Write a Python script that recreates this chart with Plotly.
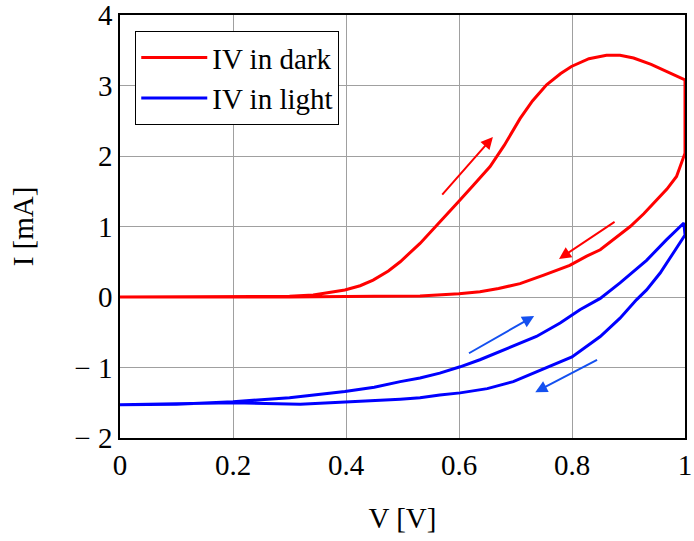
import plotly.graph_objects as go

# Dark I-V sweep: forward 0 -> 1 V, then reverse 1 -> 0 V
dark_v = [0.0, 0.1, 0.2, 0.3, 0.342, 0.37, 0.398, 0.425, 0.448, 0.475, 0.496, 0.531,
          0.565, 0.599, 0.625, 0.655, 0.68, 0.708, 0.73, 0.755, 0.78, 0.799, 0.83,
          0.861, 0.885, 0.909, 0.94, 0.967, 0.99, 1.0,
          1.0, 0.985, 0.968, 0.95, 0.927, 0.903, 0.873, 0.85, 0.826, 0.796, 0.75,
          0.708, 0.67, 0.637, 0.6, 0.566, 0.531, 0.45, 0.3, 0.0]
dark_i = [0.0, 0.0, 0.0, 0.01, 0.03, 0.06, 0.1, 0.16, 0.24, 0.37, 0.5, 0.76,
          1.05, 1.35, 1.58, 1.85, 2.15, 2.53, 2.78, 3.01, 3.17, 3.27, 3.38,
          3.43, 3.43, 3.39, 3.3, 3.2, 3.12, 3.08,
          2.04, 1.71, 1.53, 1.38, 1.18, 1.0, 0.81, 0.67, 0.58, 0.45, 0.31,
          0.19, 0.12, 0.075, 0.045, 0.03, 0.014, 0.01, 0.0, 0.0]

# Illuminated I-V sweep: forward 0 -> 1 V, then reverse 1 -> 0 V
light_v = [0.0, 0.1, 0.2, 0.3, 0.398, 0.45, 0.496, 0.531, 0.566, 0.602, 0.637, 0.678,
           0.737, 0.779, 0.814, 0.85, 0.885, 0.932, 0.967, 0.998,
           1.0, 0.979, 0.956, 0.932, 0.914, 0.885, 0.85, 0.8, 0.743, 0.696, 0.65,
           0.602, 0.566, 0.531, 0.496, 0.45, 0.398, 0.319, 0.2, 0.1, 0.0]
light_i = [-1.53, -1.52, -1.485, -1.43, -1.34, -1.28, -1.2, -1.15, -1.08, -0.99, -0.89, -0.75,
           -0.56, -0.37, -0.18, -0.02, 0.2, 0.52, 0.81, 1.05,
           0.88, 0.62, 0.34, 0.1, -0.04, -0.3, -0.56, -0.85, -1.04, -1.2, -1.3,
           -1.36, -1.39, -1.43, -1.45, -1.47, -1.49, -1.52, -1.5, -1.52, -1.53]

# Sweep-direction arrows: (tail V, tail I, head V, head I, colour)
arrows = [
    (0.568, 1.43, 0.660, 2.27, "#ff0000"),
    (0.878, 1.08, 0.777, 0.54, "#ff0000"),
    (0.615, -0.81, 0.733, -0.27, "#1450f0"),
    (0.847, -0.88, 0.735, -1.35, "#1450f0"),
]

x_ticks = [0, 0.2, 0.4, 0.6, 0.8, 1]
x_labels = ["0", "0.2", "0.4", "0.6", "0.8", "1"]
y_ticks = [-2, -1, 0, 1, 2, 3, 4]
y_labels = ["\u2212 2", "\u2212 1", "0", "1", "2", "3", "4"]

FONT = "Liberation Serif, Times New Roman, serif"
FS = 29

fig = go.Figure()
fig.add_trace(go.Scatter(x=dark_v, y=dark_i, mode="lines", name="IV in dark",
                         line=dict(color="#ff0000", width=3)))
fig.add_trace(go.Scatter(x=light_v, y=light_i, mode="lines", name="IV in light",
                         line=dict(color="#0000ff", width=3)))

for tx, ty, hx, hy, col in arrows:
    fig.add_annotation(x=hx, y=hy, ax=tx, ay=ty, xref="x", yref="y",
                       axref="x", ayref="y", showarrow=True, text="",
                       arrowhead=2, arrowsize=1.2, arrowwidth=2, arrowcolor=col)

axis_common = dict(showline=True, linecolor="black", linewidth=1.5, mirror=True,
                   showgrid=True, gridcolor="#a0a0a0", gridwidth=1,
                   zeroline=False, ticks="", automargin=False,
                   ticklabeloverflow="allow",
                   tickfont=dict(family=FONT, size=FS, color="black"))

fig.update_xaxes(range=[0, 1], tickvals=x_ticks, ticktext=x_labels,
                 title=dict(text="V [V]", font=dict(family=FONT, size=FS, color="black"),
                            standoff=28),
                 **axis_common)
fig.update_yaxes(range=[-2, 4], tickvals=y_ticks, ticktext=y_labels,
                 title=dict(text="I [mA]", font=dict(family=FONT, size=FS, color="black"),
                            standoff=32),
                 **axis_common)

fig.update_layout(
    width=694, height=541,
    margin=dict(l=120, r=9, t=15, b=103),
    plot_bgcolor="white", paper_bgcolor="white",
    font=dict(family=FONT, size=FS, color="black"),
    showlegend=True,
    legend=dict(x=0.027, y=0.962, xanchor="left", yanchor="top",
                bgcolor="white", bordercolor="black", borderwidth=1,
                itemwidth=66, font=dict(family=FONT, size=FS, color="black")),
)

fig.write_html("out.html")
